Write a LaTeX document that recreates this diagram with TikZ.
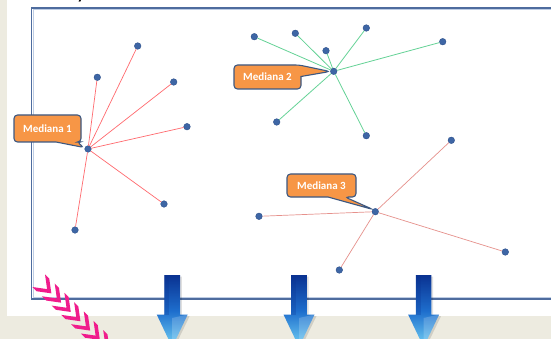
\documentclass[tikz,border=0pt]{standalone}
\usepackage{fontspec}
\setmainfont{Carlito}
\definecolor{paper}{RGB}{237,235,224}
\definecolor{frameblue}{RGB}{78,108,158}
\definecolor{framelight}{RGB}{190,205,228}
\definecolor{dotblue}{RGB}{62,102,165}
\definecolor{dotedge}{RGB}{45,80,140}
\definecolor{redA}{RGB}{255,105,110}
\definecolor{greenB}{RGB}{100,210,150}
\definecolor{redC}{RGB}{230,145,140}
\definecolor{calloutfill}{RGB}{247,150,70}
\definecolor{calloutedge}{RGB}{60,88,130}
\definecolor{arrowtop}{RGB}{10,50,145}
\definecolor{arrowmid}{RGB}{30,110,205}
\definecolor{arrowbot}{RGB}{115,210,245}
\definecolor{chevpink}{RGB}{240,28,140}
\begin{document}
\begin{tikzpicture}[x=1pt,y=-1pt,
  pt/.style={circle,inner sep=0pt,minimum size=6.6pt,fill=dotblue,draw=dotedge,line width=0.4pt},
  linkA/.style={draw=redA,line width=0.7pt},
  linkB/.style={draw=greenB,line width=0.8pt},
  linkC/.style={draw=redC,line width=0.7pt},
  callout/.style={fill=calloutfill,draw=calloutedge,line width=1.1pt},
  calltext/.style={text=white,inner sep=0pt,font=\bfseries\fontsize{11}{13}\selectfont},
  chev/.style={fill=chevpink},
  arrowbody/.style={top color=arrowtop,bottom color=arrowbot,middle color=arrowmid}]

\useasboundingbox (0,0) rectangle (551,339);

% page background and slide area
\fill[paper] (0,0) rectangle (551,339);
\fill[white] (7,0) rectangle (551,316);

% fragment of the heading above the frame
\node[anchor=base west,inner sep=0pt,font=\bfseries\fontsize{16}{18}\selectfont] (ttl) at (77,0) {y};

% frame around the plot
\draw[framelight,line width=1pt] (33,9.5) rectangle (570,297.8);
\draw[frameblue,line width=1.3pt] (31.5,8) rectangle (570,299);

% cluster 1
\node[pt] (c1) at (88,149) {};
\foreach \n/\p in {a1/{137.7,46}, a2/{97.3,77.3}, a3/{173.7,82}, a4/{187,126.7}, a5/{164,204}, a6/{75,230}}
  {\node[pt] (\n) at (\p) {};}
\foreach \n in {a1,a2,a3,a4,a5,a6} {\draw[linkA] (c1) -- (\n);}

% cluster 2
\node[pt] (c2) at (333.7,71.3) {};
\foreach \n/\p in {b1/{254.3,36.7}, b2/{295.3,33.3}, b3/{326,50.7}, b4/{366.3,28}, b5/{442.7,41.7}, b6/{276.7,122}, b7/{366.3,135.7}}
  {\node[pt] (\n) at (\p) {};}
\foreach \n in {b1,b2,b3,b4,b5,b6,b7} {\draw[linkB] (c2) -- (\n);}

% cluster 3
\node[pt] (c3) at (375.3,211.7) {};
\foreach \n/\p in {d1/{451.3,140.3}, d2/{259,216.3}, d3/{505.3,252}, d4/{339.3,270}}
  {\node[pt] (\n) at (\p) {};}
\foreach \n in {d1,d2,d3,d4} {\draw[linkC] (c3) -- (\n);}

% callouts
\draw[callout] (47,115) [rounded corners=3.5pt] -- (81,115) -- (81,142) -- (77,142)
  -- (84,147.5) [sharp corners] -- (56,142) [rounded corners=3.5pt] -- (14,142) -- (14,115) -- cycle;
\node[calltext] (m1) at (47.5,128.5) {Mediana 1};

\draw[callout] (267,65) [rounded corners=3.5pt] -- (299,65) -- (330,71.5)
  [sharp corners] -- (301,76.5) [rounded corners=3.5pt] -- (301,89) -- (234,89) -- (234,65) -- cycle;
\node[calltext] (m2) at (267.5,77) {Mediana 2};

\draw[callout] (320,174) [rounded corners=3.5pt] -- (356,174) -- (356,197) -- (345,197)
  -- (373,209.5) [sharp corners] -- (328,197) [rounded corners=3.5pt] -- (287,197) -- (287,174) -- cycle;
\node[calltext] (m3) at (321.5,185.5) {Mediana 3};

% pink chevrons running down to the lower left corner
\foreach \i in {0,...,6} {
  \begin{scope}[shift={({45+9.7*\i},{287+9.3*\i})},rotate=-45]
    \fill[chev] (-9,-9) -- (-3,-9) -- (9,0) -- (-3,9) -- (-9,9) -- (3,0) -- cycle;
  \end{scope}
}

% blue arrows pointing down
\foreach \cx in {172.2,299,423.6} {
  \fill[black,opacity=0.12] ({\cx-6.6},276.5) -- ({\cx+9.6},276.5) -- ({\cx+9.6},316) -- ({\cx+17.5},316)
    -- ({\cx+1.5},349) -- ({\cx-14},316) -- ({\cx-6.6},316) -- cycle;
  \shade[arrowbody] ({\cx-7.8},275) -- ({\cx+7.8},275) -- ({\cx+7.8},314.5) -- ({\cx+15.5},314.5)
    -- (\cx,347) -- ({\cx-15.5},314.5) -- ({\cx-7.8},314.5) -- cycle;
  \fill[white,opacity=0.18] (\cx,318) -- ({\cx+15.5},314.5) -- (\cx,347) -- cycle;
  \fill[arrowtop,opacity=0.25] ({\cx-7.8},275) -- ({\cx-3},275) -- ({\cx-3},314.5) -- ({\cx-7.8},314.5) -- cycle;
}
\end{tikzpicture}
\end{document}
